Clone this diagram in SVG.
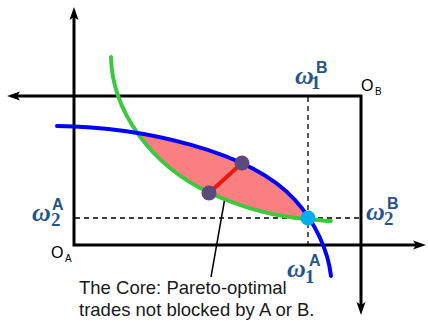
<svg xmlns="http://www.w3.org/2000/svg" width="428" height="321" viewBox="0 0 428 321">
<style>
.axis{fill:none;stroke:#000;stroke-width:3}
.dash{fill:none;stroke:#000;stroke-width:1.3;stroke-dasharray:5,4}
.lab{fill:#24558F}
.om{font-family:"Liberation Serif",serif;font-weight:bold;font-style:italic;font-size:26px}
.dg{font-family:"Liberation Serif",serif;font-weight:bold;font-size:19px}
.sp{font-family:"Liberation Sans",sans-serif;font-weight:bold;font-size:16px}
.o{font-family:"Liberation Sans",sans-serif;font-size:16px;fill:#000}
.os{font-size:10px}
.cap{font-family:"Liberation Sans",sans-serif;font-size:18.5px;fill:#1a1a1a}
</style>
<defs>
<marker id="ah" markerUnits="userSpaceOnUse" viewBox="-6 -6 15 12" markerWidth="15" markerHeight="12" refX="0" refY="0" orient="auto-start-reverse">
<path d="M8,0 L-5,-4.5 L-2,0 L-5,4.5 Z" fill="#000"/>
</marker>
<marker id="sh" markerUnits="userSpaceOnUse" viewBox="-8 -5 14 10" markerWidth="14" markerHeight="10" refX="0" refY="0" orient="auto">
<path d="M4,0 L-6,-3.2 L-6,3.2 Z" fill="#000"/>
</marker>
<clipPath id="aboveGreen">
<path d="M111,57 C112,110 150,165 210,193 C245,209 275,217 308,219 C318,220 325,221 331,221 L331,0 L111,0 Z"/>
</clipPath>
</defs>
<g id="axes">
<path class="axis" d="M74,15 L74,245 L418,245" marker-start="url(#ah)" marker-end="url(#ah)"/>
<path class="axis" d="M15,96 L361,96 L361,307" marker-start="url(#ah)" marker-end="url(#ah)"/>
</g>
<g id="connectors">
<path class="dash" d="M308,97 L308,244"/>
<path class="dash" d="M75,218 L360,218"/>
<line x1="211" y1="277" x2="226.5" y2="189" stroke="#000" stroke-width="1.5" marker-end="url(#sh)"/>
</g>
<g id="core">
<path d="M57,126 C140,127 250,150 295,200 C315,222 328,250 331,276 L57,276 Z" fill="#FA7F80" clip-path="url(#aboveGreen)"/>
</g>
<g id="green-curve">
<path d="M111,57 C112,110 150,165 210,193 C245,209 275,217 308,219 C318,220 325,221 331,221" fill="none" stroke="#3DC83D" stroke-width="4" stroke-linecap="round"/>
</g>
<g id="blue-curve">
<path d="M57,126 C140,127 250,150 295,200 C315,222 328,250 331,276" fill="none" stroke="#0000FF" stroke-width="4" stroke-linecap="round"/>
</g>
<g id="contract">
<line x1="209" y1="193" x2="242" y2="163" stroke="#E8180F" stroke-width="4"/>
<circle cx="209" cy="193" r="7.5" fill="#5B4A7C"/>
<circle cx="242" cy="163" r="7.5" fill="#5B4A7C"/>
</g>
<g id="endowment">
<circle cx="308" cy="218" r="7.5" fill="#00AEEF"/>
</g>
<g id="labels">
<text class="lab"><tspan class="om" x="295" y="84">ω</tspan><tspan class="dg" x="311" y="89">1</tspan><tspan class="sp" x="316" y="73">B</tspan></text>
<text class="lab"><tspan class="om" x="32" y="221">ω</tspan><tspan class="dg" x="51" y="226">2</tspan><tspan class="sp" x="52" y="210">A</tspan></text>
<text class="lab"><tspan class="om" x="366" y="220">ω</tspan><tspan class="dg" x="384" y="225">2</tspan><tspan class="sp" x="387" y="209">B</tspan></text>
<text class="lab"><tspan class="om" x="287" y="277">ω</tspan><tspan class="dg" x="305" y="283">1</tspan><tspan class="sp" x="309" y="266">A</tspan></text>
<text class="o" x="51" y="258">O<tspan class="os" x="65" y="262">A</tspan></text>
<text class="o" x="361" y="91">O<tspan class="os" x="375" y="95">B</tspan></text>
<text class="cap" x="79" y="294">The Core: Pareto-optimal</text>
<text class="cap" x="79" y="316">trades not blocked by A or B.</text>
</g>
</svg>
